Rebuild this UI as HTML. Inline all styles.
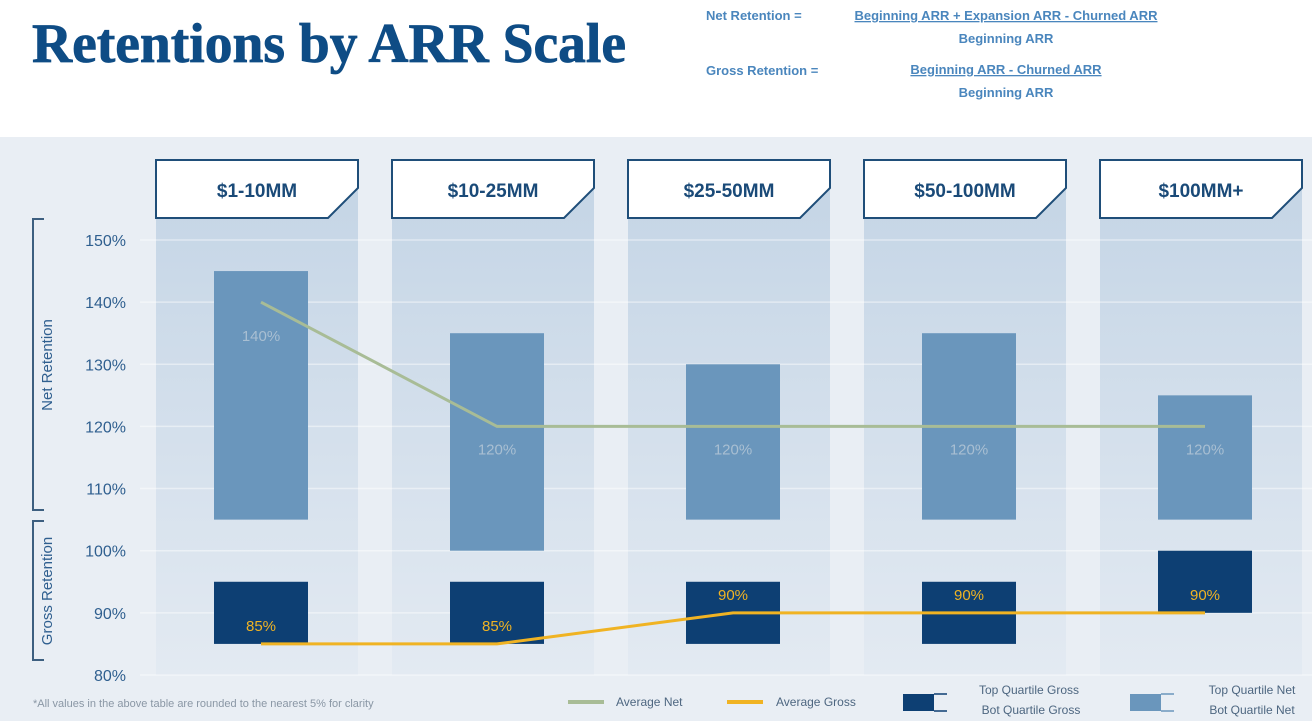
<!DOCTYPE html>
<html><head><meta charset="utf-8"><style>
html,body{margin:0;padding:0;background:#fff;}
svg{display:block;font-family:"Liberation Sans",sans-serif;}
</style></head><body>
<svg id="chart" width="1312" height="721" viewBox="0 0 1312 721" xmlns="http://www.w3.org/2000/svg">
<defs>
<linearGradient id="colg" x1="0" y1="0" x2="0" y2="1">
<stop offset="0" stop-color="#c3d4e5"/><stop offset="1" stop-color="#e3eaf2"/>
</linearGradient>
</defs>
<rect x="0" y="137" width="1312" height="584" fill="#e9eef4"/>
<text x="32" y="62" font-family="Liberation Serif,serif" font-weight="bold" font-size="56" fill="#0e4c85" stroke="#0e4c85" stroke-width="0.8" textLength="594" lengthAdjust="spacingAndGlyphs">Retentions by ARR Scale</text>
<g font-size="13" font-weight="bold" fill="#4a86bd">
<text x="706" y="20">Net Retention =</text>
<text x="1006" y="20" text-anchor="middle" text-decoration="underline">Beginning ARR + Expansion ARR - Churned ARR</text>
<text x="1006" y="43" text-anchor="middle">Beginning ARR</text>
<text x="706" y="75">Gross Retention =</text>
<text x="1006" y="74" text-anchor="middle" text-decoration="underline">Beginning ARR - Churned ARR</text>
<text x="1006" y="97" text-anchor="middle">Beginning ARR</text>
</g>
<g id="cols"></g>
<g id="grid"></g>
<g id="marks"></g>
<g id="ticks"></g>
<g stroke="#3d5f80" stroke-width="2" fill="none">
<path d="M44 219 H33 V510 H44"/>
<path d="M44 521 H33 V660 H44"/>
</g>
<text transform="translate(52,365) rotate(-90)" text-anchor="middle" font-size="15" fill="#2f5f8f">Net Retention</text>
<text transform="translate(52,591) rotate(-90)" text-anchor="middle" font-size="15" fill="#2f5f8f">Gross Retention</text>
<text x="33" y="707" font-size="11" fill="#8a97a5">*All values in the above table are rounded to the nearest 5% for clarity</text>
<g font-size="12" fill="#4d6680">
<line x1="568" y1="702" x2="604" y2="702" stroke="#a8bc96" stroke-width="4"/>
<text x="616" y="706">Average Net</text>
<line x1="727" y1="702" x2="763" y2="702" stroke="#f0b323" stroke-width="4"/>
<text x="776" y="706">Average Gross</text>
<rect x="903" y="694" width="31" height="17" fill="#0d3f73"/>
<path d="M934 694 H947 M934 711 H947" stroke="#0d3f73" stroke-width="1.5"/>
<text x="1029" y="694" text-anchor="middle">Top Quartile Gross</text>
<text x="1031" y="714" text-anchor="middle">Bot Quartile Gross</text>
<rect x="1130" y="694" width="31" height="17" fill="#6a96bc"/>
<path d="M1161 694 H1174 M1161 711 H1174" stroke="#6a96bc" stroke-width="1.5"/>
<text x="1252" y="694" text-anchor="middle">Top Quartile Net</text>
<text x="1252" y="714" text-anchor="middle">Bot Quartile Net</text>
</g>
</svg>
<script>
const categories = ["$1-10MM","$10-25MM","$25-50MM","$50-100MM","$100MM+"];
const netTop = [145,135,130,135,125];
const netBot = [105,100,105,105,105];
const grossTop = [95,95,95,95,100];
const grossBot = [85,85,85,85,90];
const avgNet = [140,120,120,120,120];
const avgGross = [85,85,90,90,90];
const yTicks = [150,140,130,120,110,100,90,80];

const NS = "http://www.w3.org/2000/svg";
const y = v => 240 + (150 - v) * 6.214;
const colX = i => 156 + i * 236;
const colW = 202;
const cx = i => colX(i) + colW / 2;
const mx = i => cx(i) + 4;
function mk(tag, attrs, parent){
  const el = document.createElementNS(NS, tag);
  for (const k in attrs) el.setAttribute(k, attrs[k]);
  document.getElementById(parent).appendChild(el);
  return el;
}
categories.forEach((c, i) => {
  const bg = mk("rect", {x: colX(i), y: 160, width: colW, height: 675 - 160, fill: "url(#colg)"}, "cols");
  
  
  const x0 = colX(i), x1 = x0 + colW;
  const hdr = mk("path", {d: `M${x0} 160 H${x1} V188 L${x1-30} 218 H${x0} Z`, fill: "#fff", stroke: "#1f4e79", "stroke-width": 2}, "cols");
  
  
  const t = mk("text", {x: cx(i), y: 197, "text-anchor": "middle", "font-size": 19, "font-weight": "bold", fill: "#1a4a78"}, "cols");
  t.textContent = c;
  
  
});
yTicks.forEach(v => {
  const g = mk("line", {x1: 140, x2: 1312, y1: y(v), y2: y(v), stroke: "#ffffff", "stroke-opacity": 0.45, "stroke-width": 1.5}, "grid");
  
  
  const t = mk("text", {x: 126, y: y(v) + 6, "text-anchor": "end", "font-size": 16, fill: "#2f5f8f"}, "ticks");
  t.textContent = v + "%";
  
  
});
const bw = 94;
categories.forEach((c, i) => {
  const nb = mk("rect", {x: mx(i) - bw/2, y: y(netTop[i]), width: bw, height: y(netBot[i]) - y(netTop[i]), fill: "#6a96bc"}, "marks");
  
  
  const gb = mk("rect", {x: mx(i) - bw/2, y: y(grossTop[i]), width: bw, height: y(grossBot[i]) - y(grossTop[i]), fill: "#0d3f73"}, "marks");
  
  
});
const netLine = mk("polyline", {points: avgNet.map((v,i)=>`${mx(i)},${y(v)}`).join(" "), fill: "none", stroke: "#a8bc96", "stroke-width": 3}, "marks");


const grossLine = mk("polyline", {points: avgGross.map((v,i)=>`${mx(i)},${y(v)}`).join(" "), fill: "none", stroke: "#f0b323", "stroke-width": 3}, "marks");


categories.forEach((c, i) => {
  const off = i === 0 ? 39 : 28;
  const t = mk("text", {x: mx(i), y: y(avgNet[i]) + off, "text-anchor": "middle", "font-size": 15, fill: "#a9bfd2"}, "marks");
  t.textContent = avgNet[i] + "%";
  
  
  const g = mk("text", {x: mx(i), y: y(avgGross[i]) - 13, "text-anchor": "middle", "font-size": 15, fill: "#f0b323"}, "marks");
  g.textContent = avgGross[i] + "%";
  
  
});
</script>
</body></html>
